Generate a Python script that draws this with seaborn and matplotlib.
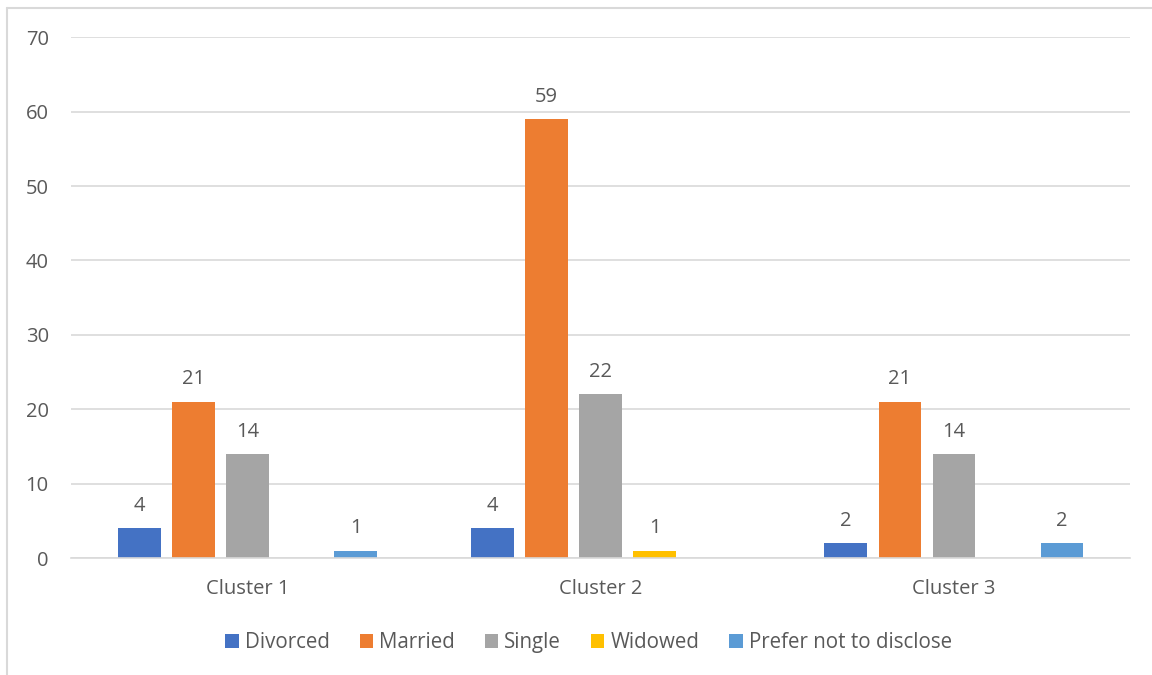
import matplotlib
matplotlib.use("Agg")
import matplotlib.pyplot as plt
from matplotlib.lines import Line2D
from matplotlib.patches import Patch
import seaborn as sns
import pandas as pd

clusters = ["Cluster 1", "Cluster 2", "Cluster 3"]
statuses = ["Divorced", "Married", "Single", "Widowed", "Prefer not to disclose"]
divorced = [4, 4, 2]
married = [21, 59, 21]
single = [14, 22, 14]
widowed = [0, 1, 0]
prefer_not = [1, 0, 2]
colors = ["#4472C4", "#ED7D31", "#A5A5A5", "#FFC000", "#5B9BD5"]
y_ticks = [0, 10, 20, 30, 40, 50, 60, 70]

series = [divorced, married, single, widowed, prefer_not]
rows = []
for status, vals in zip(statuses, series):
    for c, v in zip(clusters, vals):
        rows.append({"Cluster": c, "Status": status, "Count": v})
df = pd.DataFrame(rows)

sns.set_theme(style="white")
plt.rcParams["font.family"] = ["Open Sans", "DejaVu Sans"]
text_color = "#595959"
grid_color = "#D9D9D9"
fs = 14.5

fig = plt.figure(figsize=(11.52, 6.75), dpi=100)
ax = fig.add_axes([0.0616, 0.173, 0.9194, 0.772])

sns.barplot(data=df, x="Cluster", y="Count", hue="Status", hue_order=statuses,
            palette=colors, width=0.765, gap=0.22, ax=ax, legend=False,
            saturation=1, linewidth=0, errorbar=None)

ax.set_xlim(-0.5, 2.5)
ax.set_ylim(0, 70)
ax.set_yticks(y_ticks)
ax.yaxis.grid(True, color=grid_color, linewidth=1.2)
ax.set_axisbelow(True)
for side in ["top", "right", "left"]:
    ax.spines[side].set_visible(False)
ax.spines["bottom"].set_color(grid_color)
ax.spines["bottom"].set_linewidth(1.2)
ax.tick_params(axis="both", length=0, labelsize=fs, colors=text_color)
ax.tick_params(axis="y", pad=16)
ax.tick_params(axis="x", pad=15)
ax.set_xlabel("")
ax.set_ylabel("")

for container, vals in zip(ax.containers, series):
    labels = [str(v) if v != 0 else "" for v in vals]
    ax.bar_label(container, labels=labels, padding=9, fontsize=fs, color=text_color)

handles = [Patch(facecolor=c, edgecolor="none") for c in colors]
fig.legend(handles, statuses, loc="center", bbox_to_anchor=(0.511, 0.048), ncol=5,
           frameon=False, fontsize=14.8, labelcolor=text_color, handlelength=0.65,
           handleheight=0.65, handletextpad=0.3, columnspacing=1.45)

# chart frame
fig.add_artist(Line2D([7 / 1152, 7 / 1152], [0, 1 - 8 / 675], transform=fig.transFigure,
                      color=grid_color, linewidth=1.5))
fig.add_artist(Line2D([7 / 1152, 1], [1 - 8 / 675, 1 - 8 / 675], transform=fig.transFigure,
                      color=grid_color, linewidth=1.5))

fig.savefig("out.png", dpi=100, facecolor="white")
